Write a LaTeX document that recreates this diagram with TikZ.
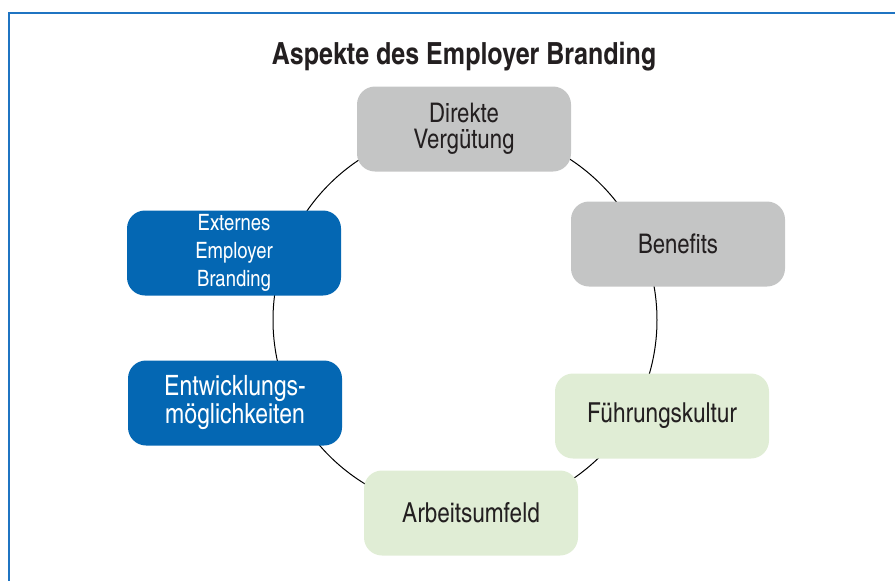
\documentclass[tikz,border=0pt]{standalone}
\usepackage{fontspec}
\setmainfont{texgyreheroscn-regular.otf}[BoldFont=texgyreheroscn-bold.otf]
\usepackage{xcolor}
\usepackage{tikz}
\usetikzlibrary{positioning, calc}
\definecolor{frameblue}{HTML}{1F74C2}
\definecolor{paygrey}{HTML}{C4C5C5}
\definecolor{cultgreen}{HTML}{E0EDD5}
\definecolor{brandblue}{HTML}{0467B3}
\definecolor{inkdark}{HTML}{231F20}
\tikzstyle{aspect} = [rectangle, rounded corners=18pt, minimum width=214pt, minimum height=85pt, text centered, align=center, inner sep=0pt]
\tikzstyle{pay} = [aspect, fill=paygrey, text=inkdark, font=\fontsize{27}{26}\selectfont]
\tikzstyle{culture} = [aspect, fill=cultgreen, text=inkdark, font=\fontsize{27.5}{26}\selectfont]
\tikzstyle{brand} = [aspect, fill=brandblue, text=white, font=\fontsize{28}{28}\selectfont]
\tikzstyle{ring} = [draw=black, line width=1pt]

\begin{document}
\begin{tikzpicture}[x=1pt, y=-1pt]
\useasboundingbox (0,0) rectangle (895,581);
\draw [frameblue, line width=1.6pt] (9,13) rectangle (905,600);

\node (title) at (464,57) [font=\bfseries\fontsize{30.5}{32}\selectfont, text=inkdark] {Aspekte des Employer Branding};

% ring behind the boxes
\coordinate (mid) at (465,320);
\draw [ring] (mid) circle [radius=192];

\node (pay) at (464,129) [pay] {Direkte\\Vergütung};
\node (benefits) at (678,244) [pay] {Benefits};
\node (lead) at (662,416) [culture] {Führungskultur};
\node (work) at (471,513) [culture] {Arbeitsumfeld};
\node (growth) at (235,403) [brand] {Entwicklungs-\\möglichkeiten};
\node (external) at (234,253) [brand, font=\fontsize{22.5}{28}\selectfont] {Externes\\Employer\\Branding};

\end{tikzpicture}
\end{document}
